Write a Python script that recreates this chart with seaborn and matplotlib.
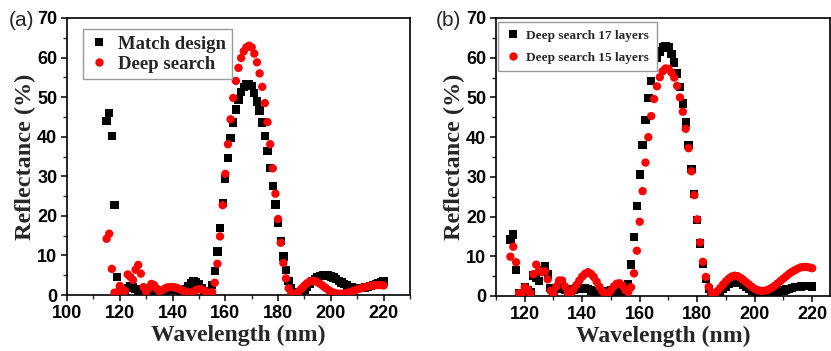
import matplotlib
matplotlib.use("Agg")
import matplotlib.pyplot as plt
import numpy as np
import pandas as pd
import seaborn as sns
from matplotlib.ticker import MultipleLocator

# ---------------- data ----------------
wavelength = list(range(115, 221))

match_design = [
    44.0, 46.0, 40.2, 22.8, 4.6, 1.0, 0.4, 1.0, 1.8, 2.3,          # 115-124
    2.1, 1.6, 1.0, 0.5, 0.2, 0.3, 0.6, 0.7, 0.5, 0.3,              # 125-134
    0.3, 0.5, 0.8, 1.0, 1.2, 1.3, 1.3, 1.2, 1.0, 1.0,              # 135-144
    1.5, 2.3, 3.0, 3.4, 3.3, 2.7, 1.8, 0.9, 0.4, 0.6,              # 145-154
    2.5, 6.0, 11.0, 16.9, 23.2, 29.3, 34.6, 39.6, 43.6, 46.9,      # 155-164
    49.4, 51.3, 52.6, 53.3, 53.4, 52.9, 51.0, 48.9, 46.6, 43.6,    # 165-174
    40.2, 36.4, 32.1, 27.6, 22.9, 18.2, 13.7, 9.7, 6.3, 3.6,       # 175-184
    1.7, 0.6, 0.1, 0.2, 0.6, 1.3, 2.0, 2.8, 3.5, 4.0,              # 185-194
    4.5, 4.8, 5.0, 5.0, 4.9, 4.7, 4.4, 4.0, 3.6, 3.2,              # 195-204
    2.8, 2.4, 2.1, 1.9, 1.7, 1.7, 1.7, 1.8, 1.9, 2.1,              # 205-214
    2.3, 2.6, 2.8, 3.0, 3.2, 3.4,                                  # 215-220
]

deep_search_17 = [
    14.2, 15.5, 6.6, 0.6, 0.5, 2.3, 1.5, 1.0, 5.2, 4.6,            # 115-124
    3.8, 6.4, 7.6, 5.4, 2.0, 0.8, 1.8, 2.8, 2.5, 1.6,              # 125-134
    1.0, 1.2, 1.6, 1.9, 2.0, 2.0, 1.9, 1.7, 1.4, 1.1,              # 135-144
    0.8, 0.6, 0.6, 0.9, 1.3, 1.5, 1.4, 1.1, 0.7, 0.5,              # 145-154
    0.7, 3.1, 7.9, 14.8, 22.7, 30.6, 38.1, 44.4, 49.8, 54.1,       # 155-164
    57.4, 59.9, 61.6, 62.6, 63.0, 62.6, 61.0, 58.8, 56.0, 52.6,    # 165-174
    48.5, 43.7, 38.1, 32.0, 25.6, 19.2, 13.2, 8.1, 4.2, 1.7,       # 175-184
    0.4, 0.1, 0.4, 1.0, 1.7, 2.4, 3.0, 3.4, 3.6, 3.5,              # 185-194
    3.2, 2.8, 2.3, 1.8, 1.3, 0.9, 0.6, 0.4, 0.3, 0.3,              # 195-204
    0.4, 0.5, 0.7, 0.9, 1.2, 1.4, 1.6, 1.8, 2.0, 2.2,              # 205-214
    2.3, 2.4, 2.5, 2.5, 2.5, 2.4,                                  # 215-220
]

deep_search_15 = [
    9.9, 12.4, 8.5, 0.7, 0.5, 2.2, 1.7, 0.7, 5.5, 7.9,             # 115-124
    6.4, 6.0, 6.2, 4.2, 1.3, 0.7, 2.4, 3.9, 3.9, 2.4,              # 125-134
    0.9, 0.7, 1.7, 2.8, 3.9, 4.9, 5.6, 6.0, 5.6, 4.8,              # 135-144
    3.6, 2.3, 1.2, 0.6, 0.7, 1.4, 2.4, 3.1, 3.2, 2.6,              # 145-154
    1.5, 1.0, 2.2, 5.7, 11.4, 18.7, 26.4, 33.6, 40.0, 45.3,        # 155-164
    49.6, 52.8, 55.1, 56.6, 57.3, 57.2, 56.3, 55.0, 52.9, 50.0,    # 165-174
    46.4, 42.1, 37.2, 31.4, 25.4, 19.3, 13.5, 8.6, 4.8, 2.3,       # 175-184
    0.8, 0.6, 1.2, 2.0, 2.9, 3.7, 4.4, 4.9, 5.1, 5.0,              # 185-194
    4.6, 4.1, 3.5, 2.9, 2.3, 1.8, 1.5, 1.3, 1.3, 1.4,              # 195-204
    1.7, 2.1, 2.6, 3.2, 3.8, 4.4, 5.0, 5.6, 6.1, 6.5,              # 205-214
    6.9, 7.2, 7.3, 7.3, 7.2, 7.0,                                  # 215-220
]

labels_a = ["Match design", "Deep search"]
labels_b = ["Deep search 17 layers", "Deep search 15 layers"]
xticks_a = [100, 120, 140, 160, 180, 200, 220]
xticks_b = [120, 140, 160, 180, 200, 220]
yticks = [0, 10, 20, 30, 40, 50, 60, 70]

n = len(wavelength)
df_a = pd.DataFrame({
    "Wavelength": wavelength * 2,
    "Reflectance": match_design + deep_search_17,
    "Series": [labels_a[0]] * n + [labels_a[1]] * n,
})
df_b = pd.DataFrame({
    "Wavelength": wavelength * 2,
    "Reflectance": deep_search_17 + deep_search_15,
    "Series": [labels_b[0]] * n + [labels_b[1]] * n,
})

# ---------------- style ----------------
sns.set_style("ticks")
plt.rcParams["font.family"] = ["Liberation Sans", "DejaVu Sans"]
plt.rcParams["axes.linewidth"] = 1.2

SERIF = ["Liberation Serif", "DejaVu Serif"]
W, H = 831, 351
fig = plt.figure(figsize=(W / 100, H / 100), dpi=100)
axa = fig.add_axes([67 / W, 1 - 295 / H, 343 / W, 277 / H])
axb = fig.add_axes([496 / W, 1 - 296 / H, 334 / W, 278 / H])


def draw(ax, df, labels, xlim, xticks, legend_anchor, legend_fs, lab_sp, bpad):
    sns.scatterplot(
        data=df, x="Wavelength", y="Reflectance", hue="Series", style="Series",
        palette={labels[0]: "black", labels[1]: "#ff0000"},
        markers={labels[0]: "s", labels[1]: "o"},
        hue_order=labels, style_order=labels,
        s=36, linewidth=0, ax=ax, zorder=3,
    )
    handles, labs = ax.get_legend_handles_labels()
    if ax.legend_ is not None:
        ax.legend_.remove()
    leg = ax.legend(
        handles, labs, loc="upper left", bbox_to_anchor=legend_anchor,
        borderaxespad=0, frameon=True, fancybox=False, framealpha=1,
        edgecolor="#9a9a9a", handlelength=1.0, handletextpad=0.5,
        labelspacing=lab_sp, borderpad=bpad, markerscale=1.0,
        prop={"family": SERIF, "weight": "bold", "size": legend_fs},
    )
    leg.get_frame().set_linewidth(1.0)

    ax.set_xlim(*xlim)
    ax.set_ylim(0, 70)
    ax.set_xticks(xticks)
    ax.set_yticks(yticks)
    ax.xaxis.set_minor_locator(MultipleLocator(10))
    ax.yaxis.set_minor_locator(MultipleLocator(5))
    ax.tick_params(axis="both", which="major", direction="out", length=4.5,
                   width=1.1, labelsize=13, pad=2.5, colors="black")
    ax.tick_params(axis="both", which="minor", direction="out", length=3,
                   width=1.0)
    ax.tick_params(top=False, right=False, which="both")
    for lab in ax.get_xticklabels() + ax.get_yticklabels():
        lab.set_fontweight("bold")
    for sp in ax.spines.values():
        sp.set_visible(True)
        sp.set_color("black")
        sp.set_linewidth(1.2)
    ax.set_xlabel("Wavelength (nm)", fontfamily=SERIF, fontweight="bold",
                  fontsize=17, labelpad=2.5)
    ax.set_ylabel("Reflectance (%)", fontfamily=SERIF, fontweight="bold",
                  fontsize=17.5, labelpad=1)


draw(axa, df_a, labels_a, (100, 230), xticks_a, (0.047, 0.96), 13.5, 0.15, 0.35)
draw(axb, df_b, labels_b, (110, 226.2), xticks_b, (0.006, 0.986), 9.5, 0.7, 0.6)

fig.text(9 / W, 1 - 21 / H, "(a)", fontsize=15, va="center", ha="left")
fig.text(436 / W, 1 - 21 / H, "(b)", fontsize=15, va="center", ha="left")

fig.savefig("out.png", dpi=100)
